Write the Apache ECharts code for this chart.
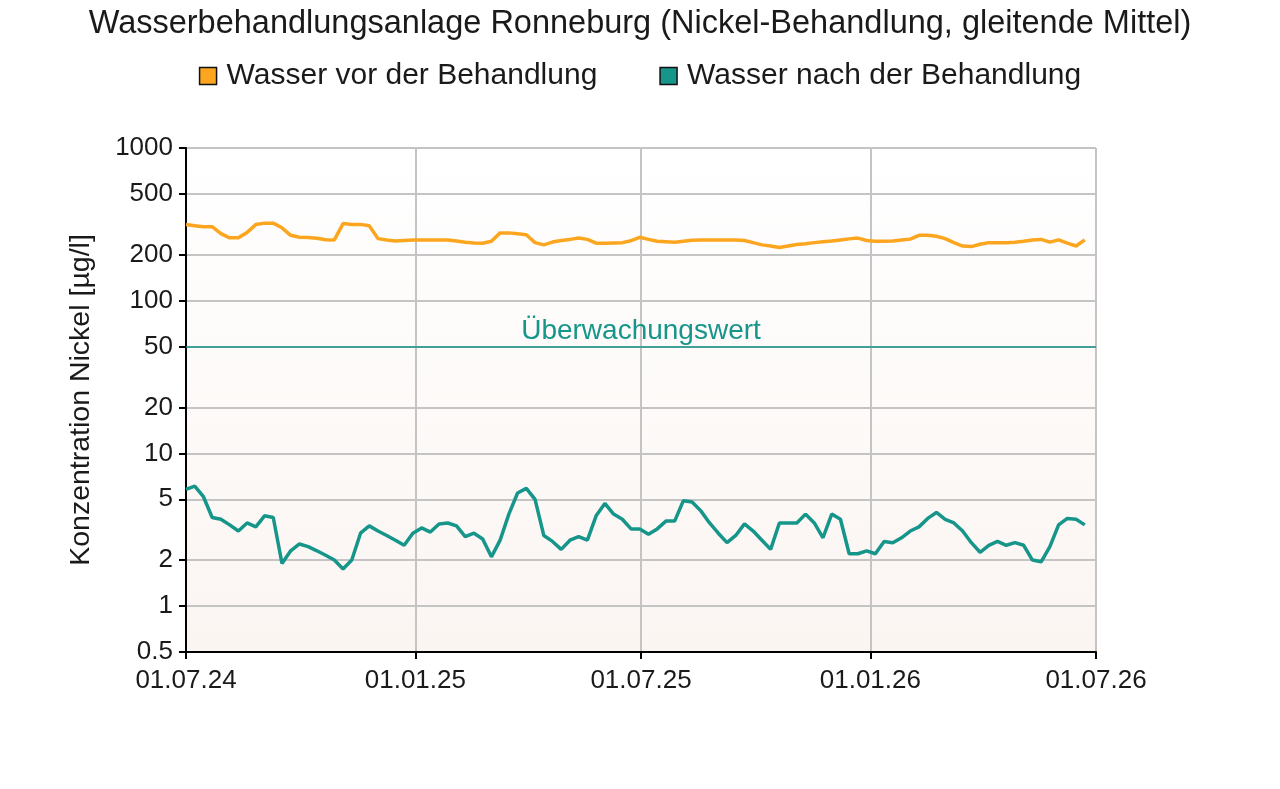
<!DOCTYPE html>
<html>
<head>
<meta charset="utf-8">
<script src="https://cdn.jsdelivr.net/npm/echarts@6/dist/echarts.min.js"></script>
<style>
  html, body { margin: 0; padding: 0; background: #fff; }
  #chart { width: 1280px; height: 789px; }
</style>
</head>
<body>
<div id="chart"></div>
<script>
// weekly moving averages, starting 01.07.2024
var startDate = new Date(2024, 6, 1)
var weekCount = 104

var vorBehandlung = [
  315, 310, 305, 305, 275, 258, 258, 280, 315, 322,
  322, 300, 268, 260, 259, 256, 251, 250, 320, 315,
  316, 310, 255, 250, 246, 248, 250, 250, 250, 250,
  250, 246, 241, 239, 238, 245, 278, 278, 274, 270,
  240, 232, 242, 248, 252, 257, 252, 238, 238, 239,
  240, 247, 260, 252, 245, 243, 241, 245, 249, 250,
  250, 250, 250, 250, 248, 240, 232, 228, 223, 228,
  233, 236, 240, 243, 246, 250, 254, 257, 248, 245,
  245, 246, 250, 253, 268, 268, 264, 255, 240, 228,
  226, 234, 240, 240, 240, 241, 245, 250, 252, 242,
  250, 238, 228, 250
]

var nachBehandlung = [
  5.8, 6.1, 5.2, 3.8, 3.7, 3.4, 3.1, 3.5, 3.3, 3.9,
  3.8, 1.9, 2.3, 2.55, 2.45, 2.3, 2.15, 2.0, 1.75, 2.0,
  3.0, 3.35, 3.1, 2.9, 2.7, 2.5, 3.0, 3.25, 3.05, 3.45,
  3.5, 3.35, 2.85, 3.0, 2.75, 2.1, 2.7, 4.0, 5.5, 5.9,
  5.0, 2.9, 2.65, 2.35, 2.7, 2.85, 2.7, 3.9, 4.7, 4.0,
  3.7, 3.2, 3.2, 2.95, 3.2, 3.6, 3.6, 4.9, 4.8, 4.2,
  3.5, 3.0, 2.6, 2.9, 3.45, 3.1, 2.7, 2.35, 3.5, 3.5,
  3.5, 4.0, 3.5, 2.8, 4.0, 3.7, 2.2, 2.2, 2.3, 2.2,
  2.65, 2.6, 2.8, 3.1, 3.3, 3.75, 4.1, 3.7, 3.5, 3.1,
  2.6, 2.25, 2.5, 2.65, 2.5, 2.6, 2.5, 2.0, 1.95, 2.45,
  3.4, 3.75, 3.7, 3.4
]

var yTicks = [0.5, 1, 2, 5, 10, 20, 50, 100, 200, 500, 1000]
var xTicks = [
  new Date(2024, 6, 1).getTime(),
  new Date(2025, 0, 1).getTime(),
  new Date(2025, 6, 1).getTime(),
  new Date(2026, 0, 1).getTime(),
  new Date(2026, 6, 1).getTime()
]
var ueberwachungswert = 50

var dates = []
for (var i = 0; i < weekCount; i++) {
  var d = new Date(startDate)
  d.setDate(d.getDate() + 7 * i)
  dates.push(d.getTime())
}

function pair(values) {
  return values.map(function (v, i) { return [dates[i], v] })
}

function pad(n) { return n < 10 ? '0' + n : '' + n }

var font = '"Liberation Sans", Arial, sans-serif'
var orange = '#fca51e'
var teal = '#16958a'

var chart = echarts.init(document.getElementById('chart'))
chart.setOption({
  animation: false,
  textStyle: { fontFamily: font },
  title: {
    text: 'Wasserbehandlungsanlage Ronneburg (Nickel-Behandlung, gleitende Mittel)',
    left: 'center',
    top: 3,
    textStyle: { fontSize: 32.5, fontWeight: 'normal', color: '#1a1a1a', fontFamily: font }
  },
  legend: {
    top: 56,
    left: 'center',
    itemGap: 62,
    itemWidth: 17,
    itemHeight: 17,
    icon: 'rect',
    itemStyle: { borderColor: '#111', borderWidth: 1.5 },
    textStyle: { fontSize: 30, color: '#1a1a1a', padding: [0, 0, 0, 5] },
    data: ['Wasser vor der Behandlung', 'Wasser nach der Behandlung']
  },
  grid: {
    left: 186, right: 184, top: 148, bottom: 137,
    show: true,
    borderWidth: 0,
    backgroundColor: new echarts.graphic.LinearGradient(0, 0, 0, 1, [
      { offset: 0, color: '#ffffff' },
      { offset: 1, color: '#fbf5f2' }
    ])
  },
  xAxis: {
    type: 'value',
    min: xTicks[0],
    max: xTicks[xTicks.length - 1],
    axisLine: { lineStyle: { color: '#000', width: 2 } },
    axisTick: { show: true, customValues: xTicks, length: 7, lineStyle: { color: '#000', width: 2 } },
    axisLabel: {
      customValues: xTicks,
      fontSize: 26,
      color: '#1a1a1a',
      margin: 16,
      formatter: function (val) {
        var d = new Date(val)
        return pad(d.getDate()) + '.' + pad(d.getMonth() + 1) + '.' + pad(d.getFullYear() % 100)
      }
    },
    splitLine: { show: true, lineStyle: { color: '#c4c4c4', width: 2 } }
  },
  yAxis: {
    type: 'log',
    logBase: 10,
    min: 0.5,
    max: 1000,
    name: 'Konzentration Nickel [µg/l]',
    nameLocation: 'middle',
    nameGap: 90,
    nameTextStyle: { fontSize: 28.5, color: '#1a1a1a' },
    axisLine: { show: true, lineStyle: { color: '#000', width: 2 } },
    axisTick: { show: true, customValues: yTicks, length: 7, lineStyle: { color: '#000', width: 2 } },
    axisLabel: {
      customValues: yTicks,
      fontSize: 26,
      color: '#1a1a1a',
      margin: 13,
      formatter: function (v) { return String(v) }
    },
    splitLine: { show: true, lineStyle: { color: '#c4c4c4', width: 2 } }
  },
  series: [
    {
      name: 'Wasser vor der Behandlung',
      type: 'line',
      data: pair(vorBehandlung),
      showSymbol: false,
      symbol: 'none',
      itemStyle: { color: orange },
      lineStyle: { color: orange, width: 3.5 }
    },
    {
      name: 'Wasser nach der Behandlung',
      type: 'line',
      data: pair(nachBehandlung),
      showSymbol: false,
      symbol: 'none',
      itemStyle: { color: teal },
      lineStyle: { color: teal, width: 3.5 },
      markLine: {
        silent: true,
        symbol: 'none',
        lineStyle: { color: teal, width: 1.5, type: 'solid' },
        label: {
          show: true,
          position: 'insideMiddleTop',
          formatter: 'Überwachungswert',
          fontSize: 28,
          color: teal,
          distance: 1
        },
        data: [{ yAxis: ueberwachungswert }]
      }
    }
  ]
})
</script>
</body>
</html>
